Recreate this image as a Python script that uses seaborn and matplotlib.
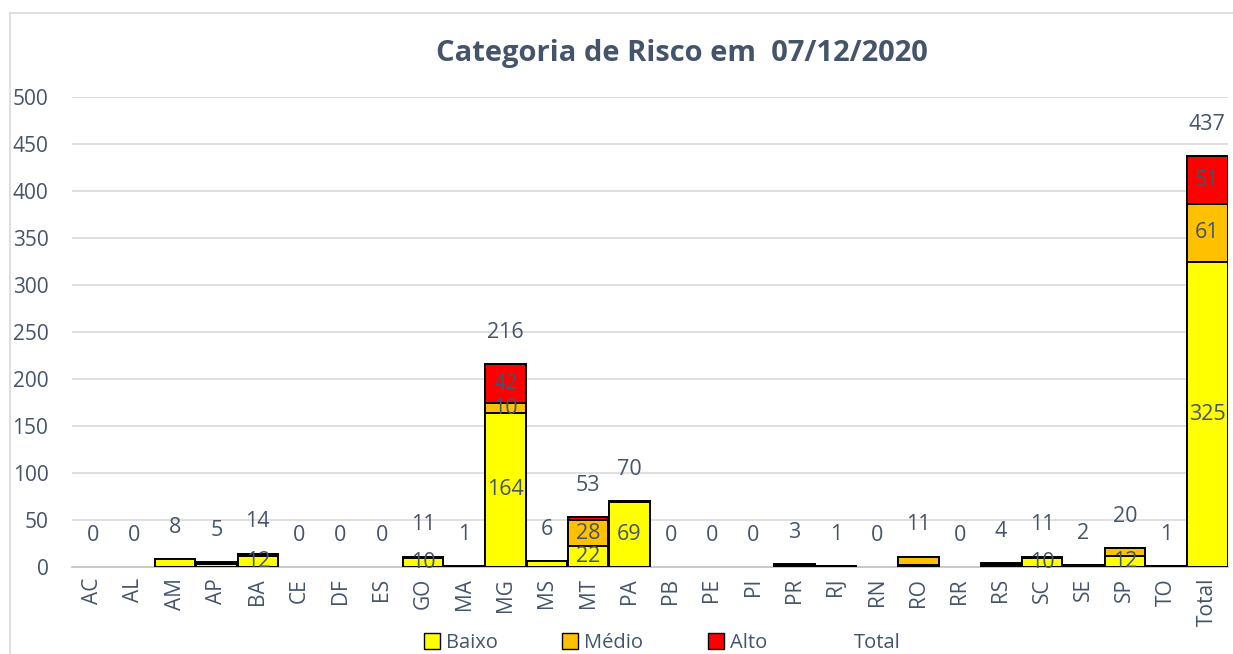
import numpy as np
import pandas as pd
import seaborn as sns
from matplotlib import pyplot as plt
from matplotlib.patches import Patch, Rectangle

# data
ufs = ['AC', 'AL', 'AM', 'AP', 'BA', 'CE', 'DF', 'ES', 'GO', 'MA', 'MG', 'MS', 'MT', 'PA',
       'PB', 'PE', 'PI', 'PR', 'RJ', 'RN', 'RO', 'RR', 'RS', 'SC', 'SE', 'SP', 'TO', 'Total']
baixo = [0, 0, 8, 3, 12, 0, 0, 0, 10, 0, 164, 6, 22, 69,
         0, 0, 0, 1, 1, 0, 2, 0, 2, 10, 2, 12, 1, 325]
medio = [0, 0, 0, 1, 2, 0, 0, 0, 1, 0, 10, 0, 28, 0,
         0, 0, 0, 1, 0, 0, 9, 0, 1, 0, 0, 8, 0, 61]
alto = [0, 0, 0, 1, 0, 0, 0, 0, 0, 1, 42, 0, 3, 1,
        0, 0, 0, 1, 0, 0, 0, 0, 1, 1, 0, 0, 0, 51]

txt = '#44546A'
c_baixo, c_medio, c_alto = '#FFFF00', '#FFC000', '#FF0000'

df = pd.DataFrame({'uf': ufs, 'baixo': baixo, 'medio': medio, 'alto': alto})
df['bm'] = df['baixo'] + df['medio']
df['total'] = df['bm'] + df['alto']

sns.set_style('white')
plt.rcParams['font.family'] = ['Open Sans', 'DejaVu Sans']

fig = plt.figure(figsize=(12.33, 6.54), dpi=100)
ax = fig.add_axes([72 / 1233, 1 - 567 / 654, (1228 - 72) / 1233, (567 - 97) / 654])

# outer chart border
fig.patches.append(Rectangle((10 / 1233, -0.1), 1.2, 1 - 13 / 654 + 0.1,
                             transform=fig.transFigure, fill=False,
                             edgecolor='#D9D9D9', linewidth=1.2))

for y in range(50, 501, 50):
    ax.axhline(y, color='#D9D9D9', linewidth=1.2, zorder=0)

# stacked bars drawn as cumulative layers, largest first
layers = [('total', c_alto), ('bm', c_medio), ('baixo', c_baixo)]
for col, color in layers:
    h = df[col].where(df[col] > 0)
    sns.barplot(x=df['uf'], y=h, order=ufs, color=color, width=0.98,
                edgecolor='black', linewidth=1.4, saturation=1, ax=ax, zorder=2)

# segment labels (only for values >= 10)
for i, row in df.iterrows():
    segs = [(row['baixo'], 0), (row['medio'], row['baixo']), (row['alto'], row['bm'])]
    for v, base in segs:
        if v >= 10:
            ax.text(i, base + v / 2, str(v), ha='center', va='center',
                    fontsize=15.5, color=txt, zorder=5)
    ax.annotate(str(row['total']), (i, row['total']), xytext=(0, 23),
                textcoords='offset points', ha='center', va='center',
                fontsize=15.5, color=txt, zorder=5)

ax.set_ylim(0, 500)
ax.set_xlim(-0.5, len(ufs) - 0.5)
ax.set_yticks(range(0, 501, 50))
ax.set_xlabel('')
ax.set_ylabel('')
ax.tick_params(axis='y', length=0, pad=17, labelsize=15, labelcolor=txt)
ax.tick_params(axis='x', length=0, pad=8, labelsize=15, labelcolor=txt, rotation=90)
for s in ['top', 'right', 'left']:
    ax.spines[s].set_visible(False)
ax.spines['bottom'].set_color('#BFBFBF')
ax.spines['bottom'].set_linewidth(1.2)
ax.spines['bottom'].set_zorder(1)

fig.text(682 / 1233, 1 - 53 / 654, 'Categoria de Risco em  07/12/2020', ha='center',
         va='center', fontsize=21, fontweight='bold', color=txt)

handles = [Patch(facecolor=c_baixo, edgecolor='black'),
           Patch(facecolor=c_medio, edgecolor='black'),
           Patch(facecolor=c_alto, edgecolor='black'),
           Patch(facecolor='none', edgecolor='none')]
leg = fig.legend(handles, ['Baixo', 'Médio', 'Alto', 'Total'], loc='center',
                 bbox_to_anchor=(662 / 1233, 1 - 643 / 654), ncol=4, frameon=False,
                 fontsize=14.5, handlelength=0.8, handleheight=0.8, handletextpad=0.3,
                 columnspacing=3.2, labelcolor=txt)

fig.savefig('out.png', dpi=100)
